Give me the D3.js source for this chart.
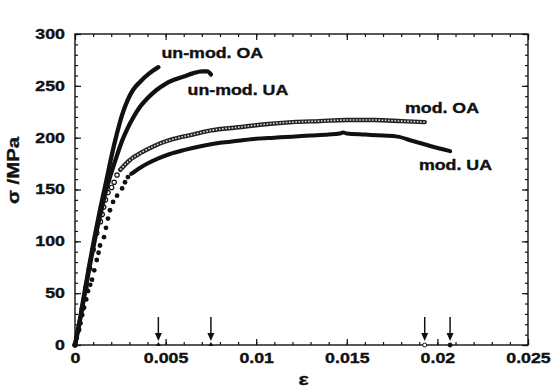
<!DOCTYPE html>
<html>
<head>
<meta charset="utf-8">
<script src="https://cdn.jsdelivr.net/npm/d3@7"></script>
<style>
  html, body { margin: 0; padding: 0; background: #fff; }
  svg { display: block; }
  text { font-family: "Liberation Sans", Arial, Helvetica, sans-serif; font-weight: bold; fill: #111; stroke: #111; stroke-width: 0.35px; }
</style>
</head>
<body>
<svg id="chart" width="553" height="389"></svg>
<script>
// Stress-strain curves (strain ε, stress σ in MPa)
const unmodOA = [
  [0, 0], [0.0002, 18], [0.0005, 48], [0.0008, 78], [0.0011, 106], [0.0014, 132],
  [0.0017, 156], [0.002, 181], [0.0023, 203], [0.0026, 222], [0.0029, 236],
  [0.0032, 246], [0.0036, 254], [0.0041, 262], [0.0046, 268]
];
const unmodUA = [
  [0, 0], [0.0002, 17], [0.0005, 46], [0.0008, 75], [0.0011, 102], [0.0014, 126],
  [0.0017, 148], [0.002, 166], [0.0023, 182], [0.0026, 197], [0.0029, 209],
  [0.0032, 219], [0.0036, 230], [0.004, 238], [0.0045, 246], [0.005, 252],
  [0.0055, 256], [0.006, 259], [0.0065, 262], [0.007, 264], [0.0073, 264], [0.0075, 261]
];
// mod. OA: widely spaced early readings, then a dense run
const modOAsparse = [
  [0, 0], [0.0002, 15], [0.0004, 35], [0.0006, 55], [0.0008, 74], [0.001, 92],
  [0.0012, 108], [0.0014, 119], [0.0015, 126], [0.00158, 133], [0.00168, 140],
  [0.00182, 147], [0.00202, 152], [0.00216, 157], [0.00232, 164]
];
const modOAdense = [
  [0.0025, 169], [0.003, 178], [0.0037, 186], [0.0045, 193], [0.0055, 199],
  [0.0065, 203], [0.0075, 207], [0.009, 210], [0.0105, 213], [0.012, 215],
  [0.0135, 216], [0.015, 217], [0.0165, 217], [0.018, 216], [0.0193, 215]
];
// mod. UA: widely spaced early readings, then a dense run
const modUAsparse = [
  [0, 0], [0.0001, 7], [0.0002, 14], [0.0003, 21], [0.0004, 29], [0.0005, 36],
  [0.00062, 44], [0.00072, 52], [0.00084, 58], [0.00094, 63], [0.00106, 72],
  [0.0012, 82], [0.0013, 89], [0.00138, 96], [0.0016, 104], [0.00171, 113],
  [0.00182, 122], [0.00193, 130], [0.0021, 138], [0.00232, 144], [0.0026, 151],
  [0.00276, 157], [0.00292, 162]
];
const modUAdense = [
  [0.0031, 165], [0.0036, 171], [0.004, 175], [0.0046, 180], [0.0052, 184],
  [0.006, 188], [0.007, 192], [0.008, 195], [0.009, 197], [0.01, 199],
  [0.011, 200], [0.012, 201], [0.013, 202], [0.014, 203], [0.0146, 204],
  [0.0148, 205], [0.015, 204], [0.016, 203], [0.017, 202], [0.0178, 201],
  [0.0186, 197], [0.0196, 192], [0.0207, 187]
];

const xTicks = [0, 0.005, 0.01, 0.015, 0.02, 0.025];
const xTickLabels = ["0", "0.005", "0.01", "0.015", "0.02", "0.025"];
const yTicks = [0, 50, 100, 150, 200, 250, 300];
const yTickLabels = ["0", "50", "100", "150", "200", "250", "300"];

const curveLabels = [
  { text: "un-mod. OA", x: 0.00477, y: 277 },
  { text: "un-mod. UA", x: 0.00621, y: 241 },
  { text: "mod. OA", x: 0.01821, y: 224 },
  { text: "mod. UA", x: 0.01898, y: 169 }
];

const svg = d3.select("#chart");
const mLeft = 75, mRight = 528, mTop = 34, mBottom = 345;
const x = d3.scaleLinear().domain([0, 0.025]).range([mLeft, mRight]);
const y = d3.scaleLinear().domain([0, 300]).range([mBottom, mTop]);
const SX = 1.27; // wide lettering

// frame
svg.append("rect")
  .attr("x", mLeft).attr("y", mTop)
  .attr("width", mRight - mLeft).attr("height", mBottom - mTop)
  .attr("fill", "none").attr("stroke", "#111").attr("stroke-width", 1.4);

// inward ticks on all four sides
const xMinor = d3.range(0, 0.02501, 0.001);
const yMinor = d3.range(0, 301, 10);
function styleAxis(g) {
  g.select(".domain").remove();
  g.selectAll(".tick line").attr("stroke", "#111").attr("stroke-width", 1.2);
}
svg.append("g").attr("transform", `translate(0,${mBottom})`)
  .call(d3.axisBottom(x).tickValues(xMinor).tickSizeInner(-3).tickSizeOuter(0).tickFormat(""))
  .call(styleAxis);
svg.append("g").attr("transform", `translate(0,${mTop})`)
  .call(d3.axisTop(x).tickValues(xMinor).tickSizeInner(-3).tickSizeOuter(0).tickFormat(""))
  .call(styleAxis);
svg.append("g").attr("transform", `translate(${mLeft},0)`)
  .call(d3.axisLeft(y).tickValues(yMinor).tickSizeInner(-3).tickSizeOuter(0).tickFormat(""))
  .call(styleAxis);
svg.append("g").attr("transform", `translate(${mRight},0)`)
  .call(d3.axisRight(y).tickValues(yMinor).tickSizeInner(-3).tickSizeOuter(0).tickFormat(""))
  .call(styleAxis);

// major ticks with labels
const xAxis = svg.append("g").attr("transform", `translate(0,${mBottom})`)
  .call(d3.axisBottom(x).tickValues(xTicks).tickSizeInner(-6).tickSizeOuter(0)
    .tickPadding(8).tickFormat((d, i) => xTickLabels[i]))
  .call(styleAxis);
xAxis.selectAll(".tick text")
  .attr("font-size", 14).attr("font-family", null).attr("fill", "#111")
  .attr("transform", `scale(${SX},1)`);
svg.append("g").attr("transform", `translate(0,${mTop})`)
  .call(d3.axisTop(x).tickValues(xTicks).tickSizeInner(-6).tickSizeOuter(0).tickFormat(""))
  .call(styleAxis);

const yAxis = svg.append("g").attr("transform", `translate(${mLeft},0)`)
  .call(d3.axisLeft(y).tickValues(yTicks).tickSizeInner(-6).tickSizeOuter(0)
    .tickFormat((d, i) => yTickLabels[i]))
  .call(styleAxis);
yAxis.selectAll(".tick text")
  .attr("font-size", 14).attr("font-family", null).attr("fill", "#111")
  .attr("x", -10 / SX)
  .attr("transform", `scale(${SX},1)`);
svg.append("g").attr("transform", `translate(${mRight},0)`)
  .call(d3.axisRight(y).tickValues(yTicks).tickSizeInner(-6).tickSizeOuter(0).tickFormat(""))
  .call(styleAxis);

// axis titles
svg.append("text")
  .attr("transform", `translate(${(mLeft + mRight) / 2 + 2},385) scale(${SX},1)`)
  .attr("text-anchor", "middle").attr("font-size", 17).text("ε");
svg.append("text")
  .attr("transform", `translate(19,${(mTop + mBottom) / 2 - 19}) rotate(-90) scale(${SX},1)`)
  .attr("text-anchor", "middle").attr("font-size", 16).text("σ /MPa");

// curves
const plot = svg.append("g");
const line = d3.line().x(d => x(d[0])).y(d => y(d[1])).curve(d3.curveMonotoneX);

// mod. UA
plot.selectAll(".uaDot").data(modUAsparse).enter().append("circle")
  .attr("cx", d => x(d[0])).attr("cy", d => y(d[1])).attr("r", 2.4).attr("fill", "#111");
plot.append("path").datum(modUAdense).attr("d", line)
  .attr("fill", "none").attr("stroke", "#111").attr("stroke-width", 4)
  .attr("stroke-linecap", "round").attr("stroke-linejoin", "round");

// mod. OA (chain of open circles)
plot.selectAll(".oaDot").data(modOAsparse).enter().append("circle")
  .attr("cx", d => x(d[0])).attr("cy", d => y(d[1])).attr("r", 2.2)
  .attr("fill", "#fff").attr("stroke", "#111").attr("stroke-width", 1.2);
plot.append("path").datum(modOAdense).attr("d", line)
  .attr("fill", "none").attr("stroke", "#222").attr("stroke-width", 4.4)
  .attr("stroke-linecap", "round");
plot.append("path").datum(modOAdense).attr("d", line)
  .attr("fill", "none").attr("stroke", "#ddd").attr("stroke-width", 1.6)
  .attr("stroke-dasharray", "1.6,1.6");

// un-modified curves
[unmodUA, unmodOA].forEach(s => {
  plot.append("path").datum(s).attr("d", line)
    .attr("fill", "none").attr("stroke", "#111").attr("stroke-width", 4.3)
    .attr("stroke-linecap", "round").attr("stroke-linejoin", "round");
});

// curve labels
curveLabels.forEach(l => {
  svg.append("text")
    .attr("transform", `translate(${x(l.x)},${y(l.y)}) scale(${SX},1)`)
    .attr("font-size", 14).text(l.text);
});

// fracture strain arrows
const fractures = [
  { e: unmodOA[unmodOA.length - 1][0], mark: "tri" },
  { e: unmodUA[unmodUA.length - 1][0], mark: "tri" },
  { e: modOAdense[modOAdense.length - 1][0], mark: "open" },
  { e: modUAdense[modUAdense.length - 1][0], mark: "dot" }
];
fractures.forEach(f => {
  const cx = x(f.e);
  svg.append("line").attr("x1", cx).attr("x2", cx).attr("y1", mBottom - 28).attr("y2", mBottom - 10)
    .attr("stroke", "#111").attr("stroke-width", 1.5);
  svg.append("path")
    .attr("d", `M${cx - 3.5},${mBottom - 12} L${cx + 3.5},${mBottom - 12} L${cx},${mBottom - 4} Z`)
    .attr("fill", "#111");
  if (f.mark === "tri") {
    svg.append("path").attr("d", `M${cx - 2.5},${mBottom + 1} L${cx + 2.5},${mBottom + 1} L${cx},${mBottom - 3} Z`)
      .attr("fill", "#111");
  } else {
    svg.append("circle").attr("cx", cx).attr("cy", mBottom).attr("r", 2)
      .attr("fill", f.mark === "open" ? "#fff" : "#111").attr("stroke", "#111").attr("stroke-width", 1);
  }
});
</script>
</body>
</html>
